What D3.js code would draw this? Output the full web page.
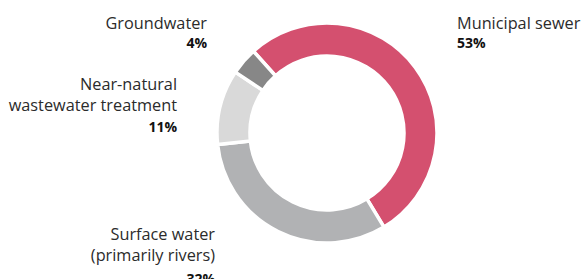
<!DOCTYPE html>
<html>
<head>
<meta charset="utf-8">
<script src="https://cdn.jsdelivr.net/npm/d3@7"></script>
<style>
  html, body { margin: 0; padding: 0; background: #fff; }
  svg { display: block; font-family: "Open Sans", sans-serif; }
</style>
</head>
<body>
<svg id="chart" width="582" height="279"></svg>
<script>
// data
const categories = ['Municipal sewer', 'Surface water (primarily rivers)', 'Near-natural wastewater treatment', 'Groundwater'];
const shares = [53, 32, 11, 4];
const colors = ['#d4506f', '#b1b2b4', '#d9d9d9', '#878787'];
const labelLines = [
  ['Municipal sewer'],
  ['Surface water', '(primarily rivers)'],
  ['Near-natural', 'wastewater treatment'],
  ['Groundwater']
];
const valueLabels = ['53%', '32%', '11%', '4%'];

const width = 582, height = 279;
const cx = 327, cy = 133;
const outerR = 110, innerR = 77;
const startAngle = -42 * Math.PI / 180;

const svg = d3.select('#chart');

const pie = d3.pie()
  .sort(null)
  .value(d => d.value)
  .startAngle(startAngle)
  .endAngle(startAngle + 2 * Math.PI);

const arc = d3.arc()
  .innerRadius(innerR)
  .outerRadius(outerR);

const data = categories.map((c, i) => ({ name: c, value: shares[i], color: colors[i] }));

svg.append('g')
  .attr('transform', `translate(${cx},${cy})`)
  .selectAll('path')
  .data(pie(data))
  .join('path')
  .attr('d', arc)
  .attr('fill', d => d.data.color)
  .attr('stroke', '#fff')
  .attr('stroke-width', 3.5);

// label placement (layout only)
const labelPos = [
  { x: 457, y: 29, anchor: 'start', gap: 19 },
  { x: 215, y: 240, anchor: 'end', gap: 23 },
  { x: 177, y: 90, anchor: 'end', gap: 21 },
  { x: 207, y: 29, anchor: 'end', gap: 19 }
];
const lineH = 21;

const labels = svg.append('g')
  .selectAll('text')
  .data(data)
  .join('text')
  .attr('x', (d, i) => labelPos[i].x)
  .attr('y', (d, i) => labelPos[i].y)
  .attr('text-anchor', (d, i) => labelPos[i].anchor)
  .attr('fill', '#2b2b2b')
  .style('font-size', '16.3px');

labels.each(function (d, i) {
  const t = d3.select(this);
  labelLines[i].forEach((line, j) => {
    t.append('tspan')
      .attr('x', labelPos[i].x)
      .attr('dy', j === 0 ? 0 : lineH)
      .text(line);
  });
  t.append('tspan')
    .attr('x', labelPos[i].x)
    .attr('dy', labelPos[i].gap)
    .style('font-weight', 'bold')
    .style('font-size', '14px')
    .attr('fill', '#111')
    .text(valueLabels[i]);
});
</script>
</body>
</html>
